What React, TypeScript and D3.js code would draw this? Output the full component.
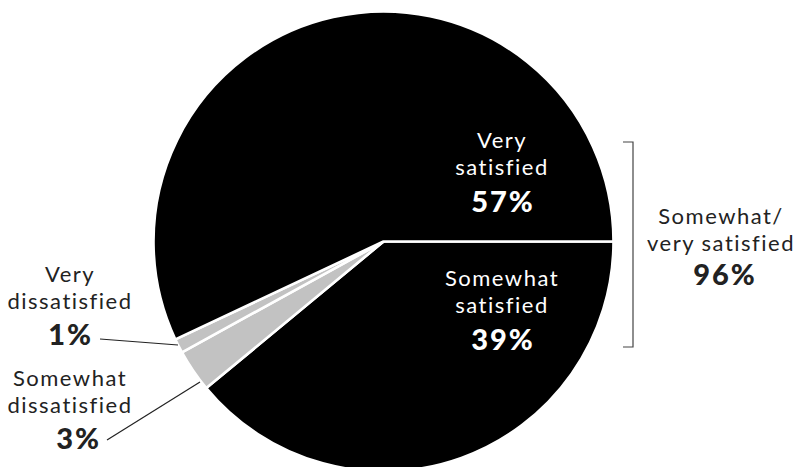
import React from "react";
import * as d3 from "d3";

const categories = ["Somewhat satisfied", "Somewhat dissatisfied", "Very dissatisfied", "Very satisfied"];
const values = [39, 3, 1, 57];
const colors = ["#000000", "#c2c2c2", "#c2c2c2", "#000000"];
const groupLabel = ["Somewhat/", "very satisfied"];
const groupValue = 96;

const W = 801;
const H = 467;
const cx = 383.5;
const cy = 241.5;
const R = 230;
const FONT = "Lato, 'Open Sans', sans-serif";

type Line = { s: string; y: number; bold?: boolean; x?: number; anchor?: string };

export default function App() {
  const pie = d3
    .pie<number>()
    .sort(null)
    .value((d) => d)
    .startAngle(Math.PI / 2)
    .endAngle(Math.PI / 2 + 2 * Math.PI);
  const arcs = pie(values);
  const arc = d3.arc<d3.PieArcDatum<number>>().innerRadius(0).outerRadius(R);

  const block = (key: string, x: number, lines: Line[], fill = "#222") => (
    <g key={key} fontFamily={FONT} fill={fill}>
      {lines.map((l, i) => (
        <text
          key={i}
          x={l.x ?? x}
          y={l.y}
          textAnchor={l.anchor || "middle"}
          fontSize={l.bold ? 29 : 22}
          fontWeight={l.bold ? 900 : 400}
          letterSpacing={l.bold ? 2 : 1.5}
        >
          {l.s}
        </text>
      ))}
    </g>
  );

  return (
    <svg width={W} height={H} style={{ position: "absolute", left: 0, top: 0 }}>
      <rect width={W} height={H} fill="#fff" />
      <g transform={`translate(${cx},${cy})`}>
        {arcs.map((a, i) => (
          <path key={categories[i]} d={arc(a) || ""} fill={colors[i]} stroke="#fff" strokeWidth={2.6} strokeLinejoin="round" />
        ))}
      </g>
      {block("vs", 502, [
        { s: "Very", y: 148 },
        { s: "satisfied", y: 175 },
        { s: `${values[3]}%`, y: 212, bold: true, x: 503 },
      ], "#fff")}
      {block("ss", 502, [
        { s: "Somewhat", y: 286 },
        { s: "satisfied", y: 313 },
        { s: `${values[0]}%`, y: 350, bold: true, x: 503 },
      ], "#fff")}
      <path d="M623,142 H633 V347 H623" fill="none" stroke="#444" strokeWidth={1.2} />
      {block("grp", 721, [
        { s: groupLabel[0], y: 224 },
        { s: groupLabel[1], y: 251 },
        { s: `${groupValue}%`, y: 285, bold: true, x: 725 },
      ])}
      {block("vd", 70, [
        { s: "Very", y: 282 },
        { s: "dissatisfied", y: 309 },
        { s: `${values[2]}%`, y: 345, bold: true, x: 93, anchor: "end" },
      ])}
      <line x1={100} y1={339} x2={178} y2={345} stroke="#222" strokeWidth={1.2} />
      {block("sd", 70, [
        { s: "Somewhat", y: 386 },
        { s: "dissatisfied", y: 413 },
        { s: `${values[1]}%`, y: 449, bold: true, x: 101, anchor: "end" },
      ])}
      <line x1={107} y1={440} x2={200} y2={382} stroke="#222" strokeWidth={1.2} />
    </svg>
  );
}
